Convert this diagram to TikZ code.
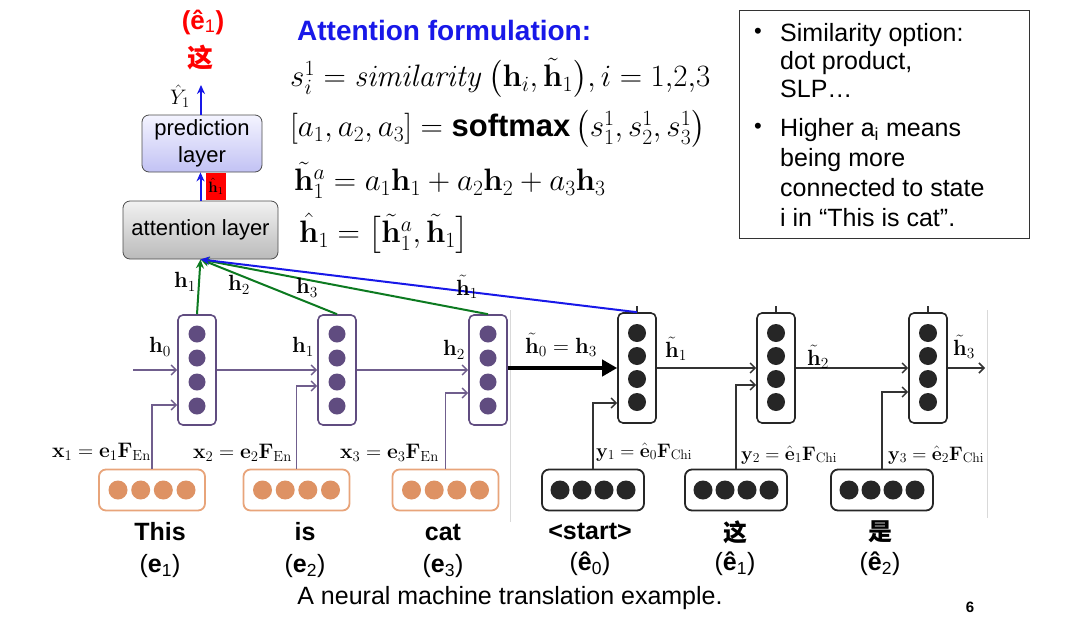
\RequirePackage{fix-cm}
\documentclass[tikz,border=0pt]{standalone}
\usepackage{amsmath}
\usepackage{amssymb}
\usepackage[no-math]{fontspec}
\setmainfont{Liberation Sans}
\newfontfamily\cjk{Noto Sans CJK SC}
\usetikzlibrary{positioning,calc,arrows.meta}
\definecolor{encpurple}{RGB}{96,76,128}
\definecolor{embfill}{RGB}{222,146,100}
\definecolor{embborder}{RGB}{232,164,122}
\definecolor{attnblue}{RGB}{24,24,232}
\definecolor{attngreen}{RGB}{12,122,32}
\definecolor{predtop}{RGB}{244,244,255}
\definecolor{predbot}{RGB}{194,194,244}
\definecolor{attntop}{RGB}{242,242,242}
\definecolor{attnbot}{RGB}{186,186,186}

\begin{document}
\begin{tikzpicture}[x=1pt,y=-1pt,
  every node/.style={font=\fontsize{18}{22}\selectfont},
  enccell/.style={draw=encpurple, line width=1.6pt, rounded corners=5pt, fill=white, minimum width=38pt, minimum height=110pt, inner sep=0pt},
  deccell/.style={enccell, draw=black!85},
  encemb/.style={draw=embborder, line width=1.8pt, rounded corners=7pt, fill=white, minimum width=106pt, minimum height=41pt, inner sep=0pt},
  decemb/.style={encemb, draw=black!85, minimum width=102pt},
  encline/.style={draw=encpurple!90, line width=1.5pt, -{Straight Barb[length=5pt,width=10pt]}},
  decline/.style={draw=black!80, line width=1.5pt, -{Straight Barb[length=5pt,width=10pt]}},
  greenline/.style={draw=attngreen, line width=2pt, -{Stealth[length=9pt,width=8pt]}},
  blueline/.style={draw=attnblue, line width=2pt, -{Stealth[length=9pt,width=8pt]}},
  layerbox/.style={draw=black!70, line width=0.8pt, rounded corners=7pt, align=center, font=\fontsize{22}{27}\selectfont},
  lbl/.style={font=\fontsize{22}{24}\selectfont, inner sep=1pt},
  xlbl/.style={font=\fontsize{21}{24}\selectfont, inner sep=0pt, anchor=west},
  ylbl/.style={font=\fontsize{19.5}{22}\selectfont, inner sep=0pt, anchor=west},
  word/.style={font=\fontsize{25}{28}\selectfont\bfseries, inner sep=1pt},
  wsub/.style={font=\fontsize{25}{28}\selectfont, inner sep=1pt},
  eqn/.style={anchor=west, font=\fontsize{31}{35}\selectfont, inner sep=0pt},
  note/.style={anchor=north west, align=left, inner sep=0pt}]
  \useasboundingbox (0,0) rectangle (1081,632);

  % faint crop edges of the original figure
  \draw[black!15, line width=0.8pt] (510,310) -- (510,522);
  \draw[black!15, line width=0.8pt] (987,310) -- (987,518);

  % attention and prediction layers
  \node[layerbox, top color=attntop, bottom color=attnbot, minimum width=155pt, minimum height=58pt] (attn) at (200.5,230) {attention layer};
  \node[layerbox, top color=predtop, bottom color=predbot, minimum width=120pt, minimum height=57pt] (pred) at (202,143.5) {prediction\\layer};
  \node[fill=red, minimum width=20pt, minimum height=27pt, inner sep=0pt, font=\fontsize{15}{17}\selectfont] (hhat) at (216,186) {$\hat{\mathbf{h}}_1$};
  \coordinate (yout) at (201,85);
  \node[font=\fontsize{21}{23}\selectfont, inner sep=1pt] (yhat) at (180,96) {$\hat{Y}_1$};
  \node[text=red, font=\fontsize{26}{28}\selectfont\bfseries] (ered) at (203,22) {(ê\textsubscript{\mdseries 1})};
  \node[text=red, font=\fontsize{26}{28}\selectfont\cjk\bfseries] (zhered) at (200,58) {这};
  \draw[blueline] (attn.north) -- (attn.north |- pred.south);
  \draw[blueline] (pred.north -| yout) -- (yout);

  % encoder cells
  \foreach \n/\cx in {1/197,2/337,3/488} {
    \node[enccell] (enc\n) at (\cx,370) {};
    \foreach \dy in {-36,-12,12,36}
      \fill[encpurple] ($(enc\n.center)+(0,\dy)$) circle (8.5pt);
  }
  % decoder cells
  \foreach \n/\cx in {1/637,2/776,3/928} {
    \node[deccell] (dec\n) at (\cx,368) {};
    \foreach \dy in {-35,-12,11,34}
      \fill[black!85] ($(dec\n.center)+(0,\dy)$) circle (9pt);
    \draw[black!80, line width=1.2pt] (dec\n.north) -- ++(0,-6);
  }

  % embeddings
  \foreach \n/\cx in {1/152,2/296.5,3/445.5} {
    \node[encemb] (xemb\n) at (\cx,490) {};
    \foreach \dx in {-34,-11.3,11.3,34}
      \fill[embfill] ($(xemb\n.center)+(\dx,0)$) circle (9.5pt);
  }
  \foreach \n/\cx in {1/593,2/736,3/882} {
    \node[decemb] (yemb\n) at (\cx,490) {};
    \foreach \dx in {-33,-11,11,33}
      \fill[black!85] ($(yemb\n.center)+(\dx,0)$) circle (9.5pt);
  }

  % encoder recurrence and inputs
  \coordinate (h0in) at (133,370);
  \draw[encline] (h0in) -- (enc1.west);
  \draw[encline] (enc1.east) -- (enc2.west);
  \draw[encline] (enc2.east) -- (enc3.west);
  \draw[encline] (xemb1.north) |- ([yshift=-35pt]enc1.west);
  \draw[encline] (xemb2.north) |- ([yshift=-16pt]enc2.west);
  \draw[encline] (xemb3.north) |- ([yshift=-23pt]enc3.west);

  % decoder recurrence and inputs
  \coordinate (h3out) at (985,368);
  \draw[black, line width=4.5pt, -{Triangle[length=15pt,width=16pt]}] (enc3.east |- dec1.west) -- (dec1.west);
  \draw[decline] (dec1.east) -- (dec2.west);
  \draw[decline] (dec2.east) -- (dec3.west);
  \draw[decline] (dec3.east) -- (h3out);
  \draw[decline] (yemb1.north) |- ([yshift=-35pt]dec1.west);
  \draw[decline] (yemb2.north) |- ([yshift=-17pt]dec2.west);
  \draw[decline] (yemb3.north) |- ([yshift=-24pt]dec3.west);

  % attention connections
  \draw[greenline] (enc1.north) -- (attn.south);
  \draw[greenline] (enc2.north) -- (attn.south);
  \draw[greenline] (enc3.north) -- (attn.south);
  \draw[blueline] (dec1.north) -- (attn.south);

  % state labels
  \node[lbl] (lh1) at (185,282) {$\mathbf{h}_1$};
  \node[lbl] (lh2) at (239,285) {$\mathbf{h}_2$};
  \node[lbl] (lh3) at (307,288) {$\mathbf{h}_3$};
  \node[lbl] (lht1) at (467,287) {$\tilde{\mathbf{h}}_1$};
  \node[lbl] (eh0) at (160,347) {$\mathbf{h}_0$};
  \node[lbl] (eh1) at (303,347) {$\mathbf{h}_1$};
  \node[lbl] (eh2) at (454,350) {$\mathbf{h}_2$};
  \node[lbl] (dh0) at (561,345) {$\tilde{\mathbf{h}}_0=\mathbf{h}_3$};
  \node[lbl] (dh1) at (676,349) {$\tilde{\mathbf{h}}_1$};
  \node[lbl] (dh2) at (818,357) {$\tilde{\mathbf{h}}_2$};
  \node[lbl] (dh3) at (964,347) {$\tilde{\mathbf{h}}_3$};

  % embedding labels
  \node[xlbl] (lx1) at (52,452) {$\mathbf{x}_1=\mathbf{e}_1\mathbf{F}_{\mathrm{En}}$};
  \node[xlbl] (lx2) at (193,453) {$\mathbf{x}_2=\mathbf{e}_2\mathbf{F}_{\mathrm{En}}$};
  \node[xlbl] (lx3) at (340,453) {$\mathbf{x}_3=\mathbf{e}_3\mathbf{F}_{\mathrm{En}}$};
  \node[ylbl] (ly1) at (596,452) {$\mathbf{y}_1=\hat{\mathbf{e}}_0\mathbf{F}_{\mathrm{Chi}}$};
  \node[ylbl] (ly2) at (741,455) {$\mathbf{y}_2=\hat{\mathbf{e}}_1\mathbf{F}_{\mathrm{Chi}}$};
  \node[ylbl] (ly3) at (888,455) {$\mathbf{y}_3=\hat{\mathbf{e}}_2\mathbf{F}_{\mathrm{Chi}}$};

  % words
  \node[word] (wthis) at (160,532) {This};
  \node[word] (wis) at (305,532) {is};
  \node[word] (wcat) at (443,532) {cat};
  \node[word] (wstart) at (590,531) {<start>};
  \node[word, font=\fontsize{24}{26}\selectfont\cjk\bfseries] (wzhe) at (735,532) {这};
  \node[word, font=\fontsize{24}{26}\selectfont\cjk\bfseries] (wshi) at (880,532) {是};
  \node[wsub] (se1) at (160,566) {(\textbf{e}\textsubscript{1})};
  \node[wsub] (se2) at (305,566) {(\textbf{e}\textsubscript{2})};
  \node[wsub] (se3) at (443,566) {(\textbf{e}\textsubscript{3})};
  \node[wsub] (sh0) at (590,564) {(\textbf{ê}\textsubscript{0})};
  \node[wsub] (sh1) at (735,564) {(\textbf{ê}\textsubscript{1})};
  \node[wsub] (sh2) at (880,564) {(\textbf{ê}\textsubscript{2})};

  % formulation
  \node[anchor=west, text=attnblue, font=\fontsize{28}{32}\selectfont\bfseries, inner sep=0pt] (ftitle) at (297,30) {Attention formulation:};
  \node[eqn] (eq1) at (290,78) {$s_i^1=\mathit{similarity}\,\bigl(\mathbf{h}_i,\tilde{\mathbf{h}}_1\bigr),i=1{,}2{,}3$};
  \node[eqn] (eq2) at (290,129) {$[a_1,a_2,a_3]=\mbox{\bfseries softmax}\,\bigl(s_1^1,s_2^1,s_3^1\bigr)$};
  \node[eqn] (eq3) at (294,180) {$\tilde{\mathbf{h}}_1^a=a_1\mathbf{h}_1+a_2\mathbf{h}_2+a_3\mathbf{h}_3$};
  \node[eqn] (eq4) at (299,233) {$\hat{\mathbf{h}}_1=\bigl[\tilde{\mathbf{h}}_1^a,\tilde{\mathbf{h}}_1\bigr]$};

  % notes
  \node[draw=black!80, line width=0.8pt, minimum width=290pt, minimum height=228pt] (notebox) at (884,124) {};
  \node[note, font=\fontsize{25}{28}\selectfont] (item1) at (780,23) {Similarity option:\\dot product,\\SLP\ldots};
  \node[note, font=\fontsize{25}{30}\selectfont] (item2) at (780,118) {Higher a\textsubscript{i} means\\being more\\connected to state\\i in “This is cat”.};
  \node[font=\fontsize{22}{24}\selectfont] (b1) at (758,33) {\textbullet};
  \node[font=\fontsize{22}{24}\selectfont] (b2) at (758,128) {\textbullet};

  % caption
  \node[font=\fontsize{25}{28}\selectfont] (caption) at (510,598) {A neural machine translation example.};
  \node[font=\fontsize{15}{18}\selectfont\bfseries] (pagenum) at (970,607) {6};
\end{tikzpicture}
\end{document}
